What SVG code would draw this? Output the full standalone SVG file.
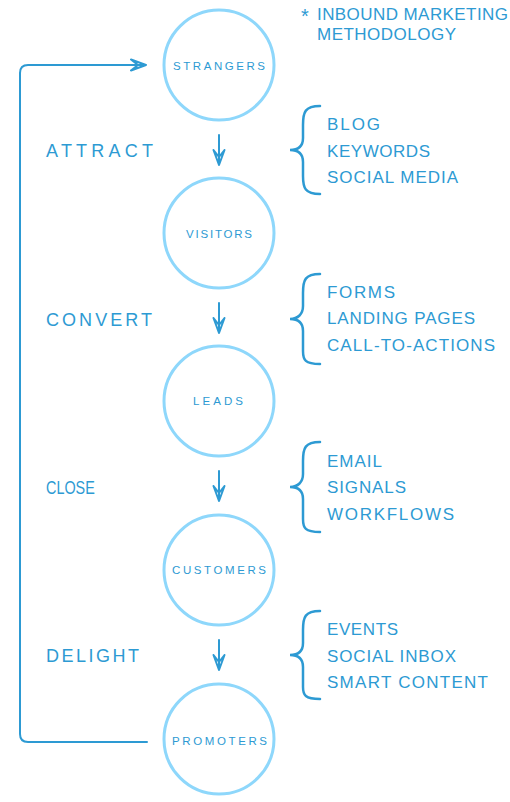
<svg xmlns="http://www.w3.org/2000/svg" width="510" height="802" viewBox="0 0 510 802">
<style>
text{font-family:"Liberation Sans","DejaVu Sans",sans-serif;fill:#2d9ad3}
.c{fill:none;stroke:#8ed7fb;stroke-width:3}
.n{font-size:11.5px}
.s{font-size:17px}
.l{font-size:18px}
.ln{fill:none;stroke:#2d9ad3;stroke-width:2;stroke-linecap:round;stroke-linejoin:round}
.br{fill:none;stroke:#2d9ad3;stroke-width:2.5;stroke-linecap:round}
</style>
<rect width="510" height="802" fill="#fff"/>
<g id="title">
<text x="301" y="23" style="font-size:20px">*</text>
<text class="s" x="317" y="20" textLength="191" lengthAdjust="spacing">INBOUND MARKETING</text>
<text class="s" x="317" y="40" textLength="139" lengthAdjust="spacing">METHODOLOGY</text>
</g>
<g id="strangers"><circle class="c" cx="219" cy="65" r="55"/><text class="n" x="173" y="70" textLength="92" lengthAdjust="spacing">STRANGERS</text></g>
<g id="visitors"><circle class="c" cx="219" cy="233" r="55"/><text class="n" x="186" y="238" textLength="66" lengthAdjust="spacing">VISITORS</text></g>
<g id="leads"><circle class="c" cx="219" cy="401" r="55"/><text class="n" x="193" y="405" textLength="50" lengthAdjust="spacing">LEADS</text></g>
<g id="customers"><circle class="c" cx="219" cy="570" r="55"/><text class="n" x="172" y="574" textLength="94" lengthAdjust="spacing">CUSTOMERS</text></g>
<g id="promoters"><circle class="c" cx="219" cy="739" r="55"/><text class="n" x="172" y="745" textLength="95" lengthAdjust="spacing">PROMOTERS</text></g>
<g id="stages">
<text class="l" x="46" y="157" textLength="107" lengthAdjust="spacing">ATTRACT</text>
<text class="l" x="46" y="326" textLength="106" lengthAdjust="spacing">CONVERT</text>
<text class="l" transform="translate(46,494) scale(0.8,1)" x="0" y="0">CLOSE</text>
<text class="l" x="46" y="662" textLength="93" lengthAdjust="spacing">DELIGHT</text>
</g>
<g id="tools-attract">
<path class="br" d="M320,106 C305,106 303,112 303,125 L303,138 C303,146 298,150 290,150 C298,150 303,154 303,162 L303,176 C303,188 305,194 320,194"/>
<text class="s" x="327" y="130" textLength="53" lengthAdjust="spacing">BLOG</text>
<text class="s" x="327" y="157" textLength="103" lengthAdjust="spacing">KEYWORDS</text>
<text class="s" x="327" y="183" textLength="131" lengthAdjust="spacing">SOCIAL MEDIA</text>
</g>
<g id="tools-convert">
<path class="br" d="M320,274 C305,274 303,280 303,293 L303,306 C303,314 298,319 290,319 C298,319 303,323 303,331 L303,351 C303,360 305,364 320,364"/>
<text class="s" x="327" y="298" textLength="68" lengthAdjust="spacing">FORMS</text>
<text class="s" x="327" y="324" textLength="148" lengthAdjust="spacing">LANDING PAGES</text>
<text class="s" x="327" y="351" textLength="168" lengthAdjust="spacing">CALL-TO-ACTIONS</text>
</g>
<g id="tools-close">
<path class="br" d="M320,442 C305,442 303,448 303,461 L303,474 C303,482 298,487 290,487 C298,487 303,491 303,499 L303,519 C303,528 305,532 320,532"/>
<text class="s" x="327" y="467" textLength="55" lengthAdjust="spacing">EMAIL</text>
<text class="s" x="327" y="493" textLength="79" lengthAdjust="spacing">SIGNALS</text>
<text class="s" x="327" y="520" textLength="127" lengthAdjust="spacing">WORKFLOWS</text>
</g>
<g id="tools-delight">
<path class="br" d="M320,611 C305,611 303,617 303,630 L303,643 C303,651 298,655 290,655 C298,655 303,659 303,667 L303,687 C303,695 305,699 320,699"/>
<text class="s" x="327" y="635" textLength="71" lengthAdjust="spacing">EVENTS</text>
<text class="s" x="327" y="662" textLength="129" lengthAdjust="spacing">SOCIAL INBOX</text>
<text class="s" x="327" y="688" textLength="161" lengthAdjust="spacing">SMART CONTENT</text>
</g>
<g id="connectors">
<path class="ln" d="M219,135 V165 M213.5,150 L219,165 L224.5,150 M213.5,150 L219,157 L224.5,150"/>
<path class="ln" d="M219,303 V333 M213.5,318 L219,333 L224.5,318 M213.5,318 L219,325 L224.5,318"/>
<path class="ln" d="M219,471 V501 M213.5,486 L219,501 L224.5,486 M213.5,486 L219,493 L224.5,486"/>
<path class="ln" d="M219,640 V670 M213.5,655 L219,670 L224.5,655 M213.5,655 L219,662 L224.5,655"/>
<path class="ln" d="M147,742 H28 Q20,742 20,734 V73 Q20,65 28,65 H146 M131,59.5 L146,65 L131,70.5 M131,59.5 L138,65 L131,70.5"/>
</g>
</svg>
